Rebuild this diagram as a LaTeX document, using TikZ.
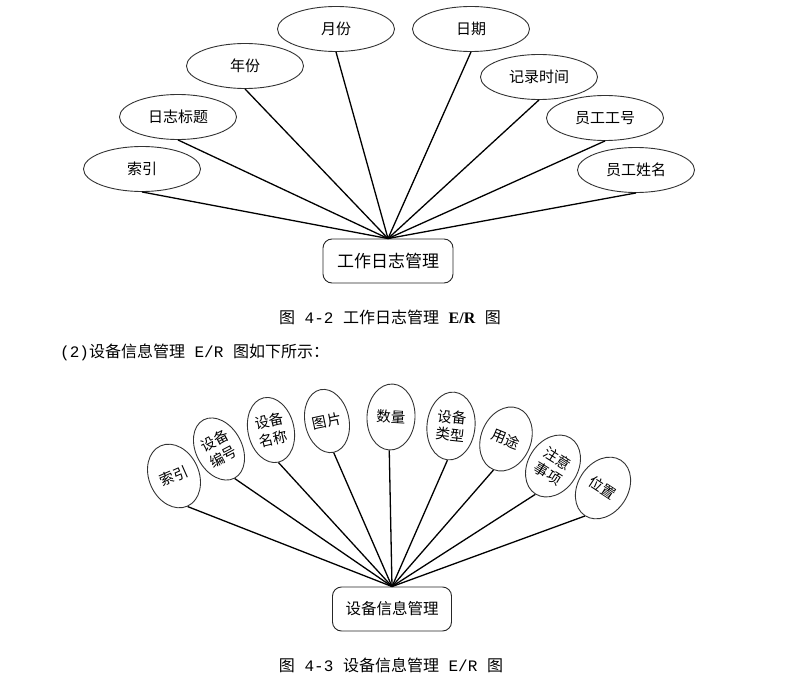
\documentclass[tikz,border=0pt]{standalone}
\usepackage{fontspec}
\setmainfont{Liberation Serif}
\newfontfamily\cjk{Noto Sans CJK SC}
\newfontfamily\monof{Liberation Mono}
\usetikzlibrary{shapes.geometric}
\begin{document}
\begin{tikzpicture}[x=1pt,y=-1pt,
  attr/.style={ellipse, draw=black!80, line width=0.9pt, inner sep=0pt},
  tattr/.style={attr, minimum width=117pt, minimum height=45pt, font=\cjk\fontsize{15}{17}\selectfont},
  battr/.style={attr, minimum width=50pt, minimum height=66pt, align=center, font=\cjk\fontsize{14.5}{18}\selectfont},
  ent/.style={draw=black!85, rounded corners=9pt, line width=0.9pt, inner sep=0pt},
  link/.style={line width=1.3pt},
  captext/.style={inner sep=0pt, font=\monof\fontsize{16}{19}\selectfont}]
\useasboundingbox (0,0) rectangle (806,690);

% ---------- diagram 1 ----------
\node[ent, minimum width=130pt, minimum height=44pt, font=\cjk\fontsize{17}{20}\selectfont] (e1) at (388,261) {工作日志管理};

\node[tattr] (t1) at (142,169) {索引};
\node[tattr] (t2) at (178,117) {日志标题};
\node[tattr] (t3) at (245,66) {年份};
\node[tattr] (t4) at (336,29) {月份};
\node[tattr] (t5) at (471,29) {日期};
\node[tattr] (t6) at (539,77) {记录时间};
\node[tattr] (t7) at (605,118) {员工工号};
\node[tattr] (t8) at (636,170) {员工姓名};

\foreach \n in {t1,t2,t3,t4,t5,t6,t7,t8}
  \draw[link] (\n.south) -- (e1.north);

\node[captext] (c1) at (390,317) {{\cjk 图} 4-2 {\cjk 工作日志管理} {\rmfamily\bfseries E/R} {\cjk 图}};
\node[captext, anchor=west] (c2) at (60,352) {(2){\cjk 设备信息管理} E/R {\cjk 图如下所示：}};

% ---------- diagram 2 ----------
\node[ent, minimum width=119pt, minimum height=44pt, font=\cjk\fontsize{15.5}{19}\selectfont] (e2) at (392,609) {设备信息管理};

\node[battr, rotate=24] (b1) at (174,476) {索引};
\node[battr, rotate=28, minimum width=46pt] (b2) at (219,449) {设备\\编号};
\node[battr, rotate=13, minimum width=46pt] (b3) at (271,430) {设备\\名称};
\node[battr, rotate=12, minimum width=44pt, minimum height=64pt] (b4) at (327,421) {图片};
\node[battr, rotate=-3, minimum width=48pt] (b5) at (391,417) {数量};
\node[battr, rotate=-6, minimum width=48pt, minimum height=68pt] (b6) at (451,426) {设备\\类型};
\node[battr, rotate=-22] (b7) at (506,439) {用途};
\node[battr, rotate=-32] (b8) at (553,466) {注意\\事项};
\node[battr, rotate=-33] (b9) at (603,488) {位置};

\foreach \n in {b1,b2,b3,b4,b5,b6,b7,b8,b9}
  \draw[link] (\n.south) -- (e2.north);

\node[captext] (c3) at (391,665) {{\cjk 图} 4-3 {\cjk 设备信息管理} E/R {\cjk 图}};
\end{tikzpicture}
\end{document}
